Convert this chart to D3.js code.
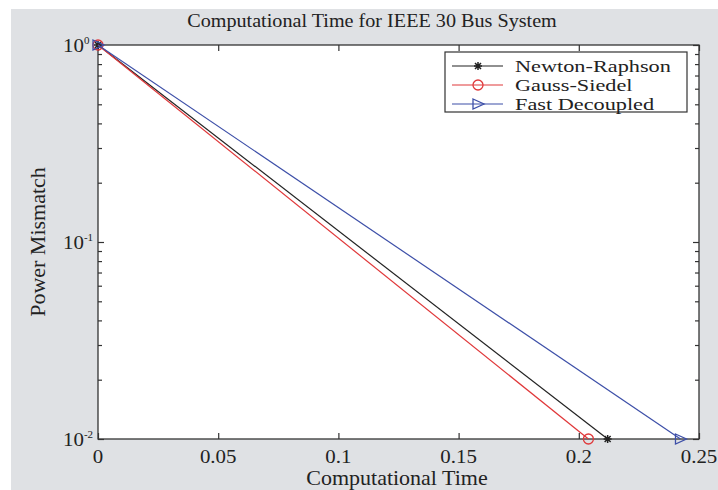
<!DOCTYPE html>
<html>
<head>
<meta charset="utf-8">
<script src="https://cdn.jsdelivr.net/npm/d3@7"></script>
<style>
  body { margin: 0; background: #fff; }
  svg text { font-family: "Liberation Serif", "Times New Roman", Times, "DejaVu Serif", serif; fill: #222; }
</style>
</head>
<body>
<div id="chart"></div>
<script>
// data
var seriesNames = ["Newton-Raphson", "Gauss-Siedel", "Fast Decoupled"];
var seriesColors = ["#222222", "#e0383a", "#3d4fa8"];
var seriesMarkers = ["star", "circle", "triangle"];
var timeNR = [0, 0.212];
var mismatchNR = [1, 0.01];
var timeGS = [0, 0.204];
var mismatchGS = [1, 0.01];
var timeFD = [0, 0.2423];
var mismatchFD = [1, 0.01];
var xTicks = [0, 0.05, 0.1, 0.15, 0.2, 0.25];
var xTickLabels = ["0", "0.05", "0.1", "0.15", "0.2", "0.25"];
var yTicks = [1, 0.1, 0.01];
var yTickExp = ["0", "-1", "-2"];

var width = 718, height = 490;
var margin = {left: 98, top: 45, right: 19, bottom: 51};
var pw = width - margin.left - margin.right,
    ph = height - margin.top - margin.bottom;
var stretch = 1.1; // the reference text is slightly wide

var svg = d3.select('#chart').append('svg')
    .attr('width', width)
    .attr('height', height);

// grey figure background
svg.append('rect')
    .attr('x', 11).attr('y', 9)
    .attr('width', width - 11).attr('height', height - 9)
    .style('fill', '#dfe1e4');

var x = d3.scaleLinear().domain([0, 0.25]).range([margin.left, margin.left + pw]);
var y = d3.scaleLog().domain([0.01, 1]).range([margin.top + ph, margin.top]);

svg.append('rect')
    .attr('x', margin.left).attr('y', margin.top)
    .attr('width', pw).attr('height', ph)
    .style('fill', '#fff');

// minor log ticks
var minor = [];
[0.01, 0.1].forEach(function (d) {
    for (var k = 2; k < 10; k++) minor.push(d * k);
});

function styleAxis(g) {
    g.selectAll('path').remove();
    g.selectAll('line').attr('stroke', '#333').attr('stroke-width', 1.2);
}

function addText(parent, tx, ty, str, size, anchor, rot, sx) {
    return parent.append('text')
        .attr('transform', 'translate(' + tx + ',' + ty + ')' + (rot ? 'rotate(' + rot + ')' : '') + 'scale(' + (sx || stretch) + ',1)')
        .attr('text-anchor', anchor || 'start')
        .attr('font-size', size)
        .text(str);
}

// bottom + top
svg.append('g')
    .attr('transform', 'translate(0,' + (margin.top + ph) + ')')
    .call(d3.axisBottom(x).tickValues(xTicks).tickSize(-6).tickFormat(''))
    .call(styleAxis);
svg.append('g')
    .attr('transform', 'translate(0,' + margin.top + ')')
    .call(d3.axisTop(x).tickValues(xTicks).tickSize(-6).tickFormat(''))
    .call(styleAxis);
// left + right majors and minors
svg.append('g')
    .attr('transform', 'translate(' + margin.left + ',0)')
    .call(d3.axisLeft(y).tickValues(yTicks).tickSize(-6).tickFormat(''))
    .call(styleAxis);
svg.append('g')
    .attr('transform', 'translate(' + margin.left + ',0)')
    .call(d3.axisLeft(y).tickValues(minor).tickSize(-4).tickFormat(''))
    .call(styleAxis);
svg.append('g')
    .attr('transform', 'translate(' + (margin.left + pw) + ',0)')
    .call(d3.axisRight(y).tickValues(yTicks).tickSize(-6).tickFormat(''))
    .call(styleAxis);
svg.append('g')
    .attr('transform', 'translate(' + (margin.left + pw) + ',0)')
    .call(d3.axisRight(y).tickValues(minor).tickSize(-4).tickFormat(''))
    .call(styleAxis);

// frame
svg.append('rect')
    .attr('x', margin.left).attr('y', margin.top)
    .attr('width', pw).attr('height', ph)
    .style('fill', 'none').style('stroke', '#333').style('stroke-width', 1.3);

// tick labels
xTicks.forEach(function (d, i) {
    addText(svg, x(d), margin.top + ph + 24, xTickLabels[i], 19, 'middle');
});
yTicks.forEach(function (d, i) {
    var t = addText(svg, 63, y(d) + 7, '10', 19, 'start');
    t.append('tspan').attr('dy', -8).attr('font-size', 10).text(yTickExp[i]);
});

// titles
addText(svg, 372, 27, 'Computational Time for IEEE 30 Bus System', 18, 'middle', 0, 1.12);
addText(svg, 397, 485, 'Computational Time', 20, 'middle');
addText(svg, 45, margin.top + ph / 2, 'Power Mismatch', 20, 'middle', -90);

// series
var data = [
    {name: seriesNames[0], t: timeNR, m: mismatchNR},
    {name: seriesNames[1], t: timeGS, m: mismatchGS},
    {name: seriesNames[2], t: timeFD, m: mismatchFD}
];
var line = d3.line()
    .x(function (d) { return x(d[0]); })
    .y(function (d) { return y(d[1]); });

function drawMarker(g, kind, color, cx, cy) {
    if (kind === 'circle') {
        g.append('circle').attr('cx', cx).attr('cy', cy).attr('r', 5)
            .style('fill', 'none').style('stroke', color).style('stroke-width', 1.3);
    } else if (kind === 'triangle') {
        g.append('path')
            .attr('d', 'M' + (cx - 5) + ',' + (cy - 5) + 'L' + (cx + 6) + ',' + cy + 'L' + (cx - 5) + ',' + (cy + 5) + 'Z')
            .style('fill', 'none').style('stroke', color).style('stroke-width', 1.3);
    } else {
        var s = 4;
        g.append('path')
            .attr('d', 'M' + cx + ',' + (cy - s) + 'V' + (cy + s) +
                'M' + (cx - s) + ',' + cy + 'H' + (cx + s) +
                'M' + (cx - 3) + ',' + (cy - 3) + 'L' + (cx + 3) + ',' + (cy + 3) +
                'M' + (cx - 3) + ',' + (cy + 3) + 'L' + (cx + 3) + ',' + (cy - 3))
            .style('stroke', color).style('stroke-width', 1.5);
    }
}

var plot = svg.append('g');
data.forEach(function (s, i) {
    var pts = s.t.map(function (t, j) { return [t, s.m[j]]; });
    plot.append('path')
        .datum(pts)
        .attr('d', line)
        .style('fill', 'none')
        .style('stroke', seriesColors[i])
        .style('stroke-width', 1.2);
    pts.forEach(function (p) {
        drawMarker(plot, seriesMarkers[i], seriesColors[i], x(p[0]), y(p[1]));
    });
});

// legend
var lg = svg.append('g').attr('transform', 'translate(445,52)');
lg.append('rect').attr('width', 242).attr('height', 60)
    .style('fill', '#fff').style('stroke', '#333').style('stroke-width', 1.2);
seriesNames.forEach(function (n, i) {
    var yy = 14 + i * 19;
    lg.append('line').attr('x1', 7).attr('x2', 58).attr('y1', yy).attr('y2', yy)
        .style('stroke', seriesColors[i]).style('stroke-width', 1.2);
    drawMarker(lg, seriesMarkers[i], seriesColors[i], 33, yy);
    addText(lg, 70, yy + 5.5, n, 16.5, 'start', 0, 1.35);
});
</script>
</body>
</html>
